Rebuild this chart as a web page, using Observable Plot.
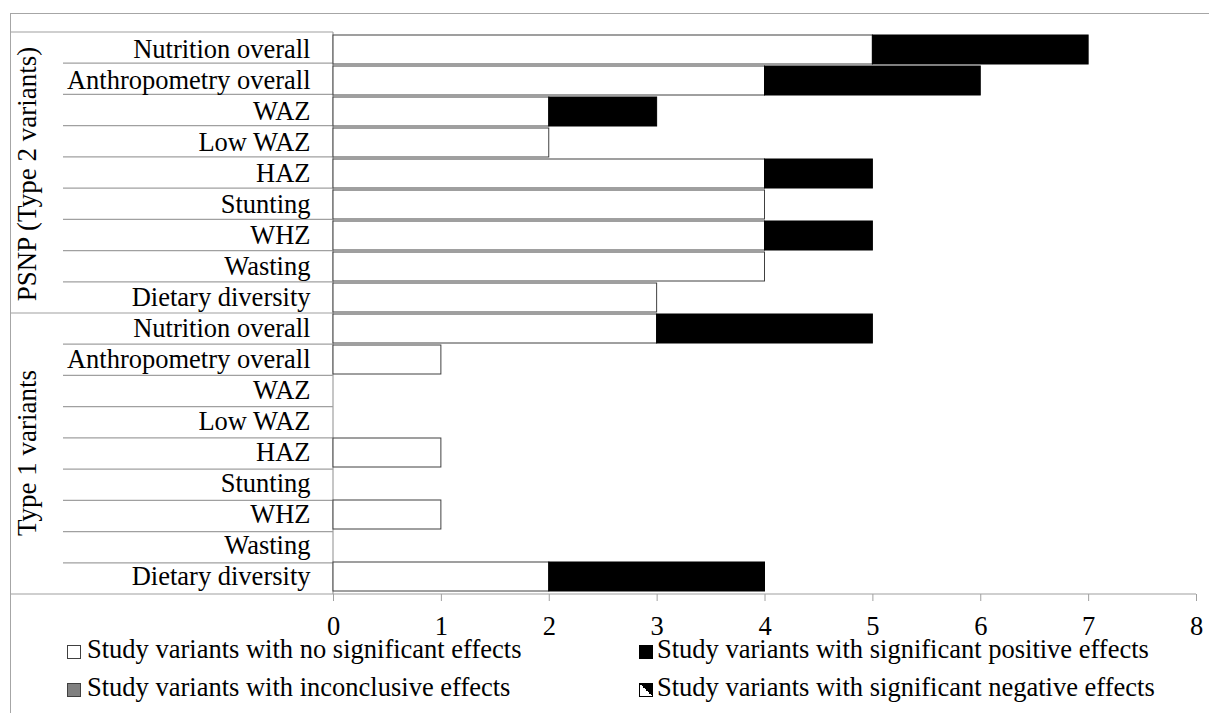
<!DOCTYPE html>
<html>
<head>
<meta charset="utf-8">
<script src="https://cdn.jsdelivr.net/npm/d3@7"></script>
<script src="https://cdn.jsdelivr.net/npm/@observablehq/plot@0.6"></script>
<style>
  html, body { margin: 0; padding: 0; background: white; }
  #wrap { position: relative; width: 1209px; height: 713px; overflow: hidden; font-family: "Liberation Serif", "Times New Roman", serif; }
  #border { position: absolute; left: 10px; top: 13px; width: 1200px; height: 720px; box-sizing: border-box; border: 1px solid #a6a6a6; pointer-events: none; z-index: 2; }
  .lg-sq { position: absolute; width: 14px; height: 14px; box-sizing: border-box; }
  .lg-tx { position: absolute; font-size: 26.5px; line-height: 22px; height: 22px; white-space: nowrap; color: #000; }
  #chart svg { background: transparent !important; font-family: "Liberation Serif", "Times New Roman", serif !important; }
  #chart svg text { font-family: "Liberation Serif", "Times New Roman", serif !important; }
</style>
</head>
<body>
<div id="wrap">
  <div id="chart"></div>
  <div id="legend"></div>
  <div id="border"></div>
</div>
<script>
// ---- data ----
const groups = ["PSNP (Type 2 variants)", "Type 1 variants"];
const outcomes = ["Nutrition overall", "Anthropometry overall", "WAZ", "Low WAZ", "HAZ", "Stunting", "WHZ", "Wasting", "Dietary diversity"];
const noSigPSNP = [5, 4, 2, 2, 4, 4, 4, 4, 3];
const posPSNP   = [2, 2, 1, 0, 1, 0, 1, 0, 0];
const noSigType1 = [3, 1, 0, 0, 1, 0, 1, 0, 2];
const posType1   = [2, 0, 0, 0, 0, 0, 0, 0, 2];
const xTicks = [0, 1, 2, 3, 4, 5, 6, 7, 8];
const legendLabels = [
  "Study variants with no significant effects",
  "Study variants with significant positive effects",
  "Study variants with inconclusive effects",
  "Study variants with significant negative effects"
];

// ---- build table ----
const rows = [];
groups.forEach((g, gi) => {
  const ns = gi === 0 ? noSigPSNP : noSigType1;
  const ps = gi === 0 ? posPSNP : posType1;
  outcomes.forEach((o, i) => {
    rows.push({key: g + "|" + o, group: g, outcome: o, none: ns[i], pos: ps[i]});
  });
});
const keys = rows.map(d => d.key);
const groupLabelKeys = groups.map(g => g + "|HAZ");

const FONT = "Liberation Serif";
const GRAY = "#a0a0a0";

function frameLines(index, scales, values, dimensions) {
  const {marginTop, marginBottom, marginLeft, height} = dimensions;
  const y0 = marginTop, y1 = height - marginBottom;
  const step = (y1 - y0) / keys.length;
  const g = d3.create("svg:g").attr("stroke", GRAY).attr("stroke-width", 1.2).attr("fill", "none");
  const left = 10, inner = 63;
  g.append("line").attr("x1", left).attr("x2", marginLeft).attr("y1", y0).attr("y2", y0);
  for (let k = 1; k < keys.length; k++) {
    const yy = y0 + k * step;
    const isGroup = keys[k].split("|")[0] !== keys[k - 1].split("|")[0];
    g.append("line").attr("x1", isGroup ? left : inner).attr("x2", marginLeft).attr("y1", yy).attr("y2", yy);
  }
  g.append("line").attr("x1", marginLeft).attr("x2", marginLeft).attr("y1", y0).attr("y2", y1);
  g.append("line").attr("x1", left).attr("x2", scales.x(xTicks[xTicks.length - 1])).attr("y1", y1).attr("y2", y1);
  return g.node();
}

const plot = Plot.plot({
  width: 1209,
  height: 640,
  marginTop: 32,
  marginBottom: 46,
  marginLeft: 333,
  marginRight: 13,
  style: {fontFamily: FONT, fontSize: "26.5px", color: "#000", background: "transparent"},
  x: {domain: [0, 8], axis: null, label: null},
  y: {domain: keys, paddingInner: 0.05, paddingOuter: 0.025, axis: null, label: null},
  marks: [
    frameLines,
    Plot.barX(rows.filter(d => d.none > 0), {x1: 0, x2: "none", y: "key", fill: "white", stroke: "#404040", strokeWidth: 1}),
    Plot.barX(rows.filter(d => d.pos > 0), {x1: "none", x2: d => d.none + d.pos, y: "key", fill: "black", stroke: "black", strokeWidth: 1}),
    Plot.axisY({tickSize: 0, tickPadding: 23, tickFormat: d => d.split("|")[1], fill: "black", fontSize: 26.5, fontFamily: FONT, label: null}),
    Plot.axisX({ticks: xTicks, tickSize: 7, tickPadding: 15, stroke: GRAY, fill: "black", fontSize: 26.5, fontFamily: FONT, tickFormat: d3.format("d"), label: null}),
    Plot.text(groupLabelKeys, {y: d => d, text: d => d.split("|")[0], frameAnchor: "left", dx: -306, rotate: -90, fontSize: 27, fontFamily: FONT, fill: "black", textAnchor: "middle"})
  ]
});
document.getElementById("chart").appendChild(plot);

// ---- legend ----
const legend = document.getElementById("legend");
const items = [
  {label: legendLabels[0], sx: 67, sy: 645, tx: 87, ty: 638, kind: "white"},
  {label: legendLabels[1], sx: 639, sy: 645, tx: 657, ty: 638, kind: "black"},
  {label: legendLabels[2], sx: 67, sy: 683, tx: 87, ty: 676, kind: "gray"},
  {label: legendLabels[3], sx: 639, sy: 683, tx: 657, ty: 676, kind: "half"}
];
items.forEach(it => {
  const sq = document.createElement("div");
  sq.className = "lg-sq";
  sq.style.left = it.sx + "px";
  sq.style.top = it.sy + "px";
  if (it.kind === "white") { sq.style.background = "#fff"; sq.style.border = "1px solid #404040"; }
  if (it.kind === "black") { sq.style.background = "#000"; sq.style.border = "1px solid #000"; }
  if (it.kind === "gray") { sq.style.background = "#808080"; sq.style.border = "1px solid #404040"; }
  if (it.kind === "half") {
    sq.style.border = "1.5px solid #000";
    sq.style.background = "linear-gradient(to top right, #fff 0%, #fff 50%, #000 50%, #000 100%)";
  }
  legend.appendChild(sq);
  const tx = document.createElement("div");
  tx.className = "lg-tx";
  tx.style.left = it.tx + "px";
  tx.style.top = it.ty + "px";
  tx.textContent = it.label;
  legend.appendChild(tx);
});
</script>
</body>
</html>
